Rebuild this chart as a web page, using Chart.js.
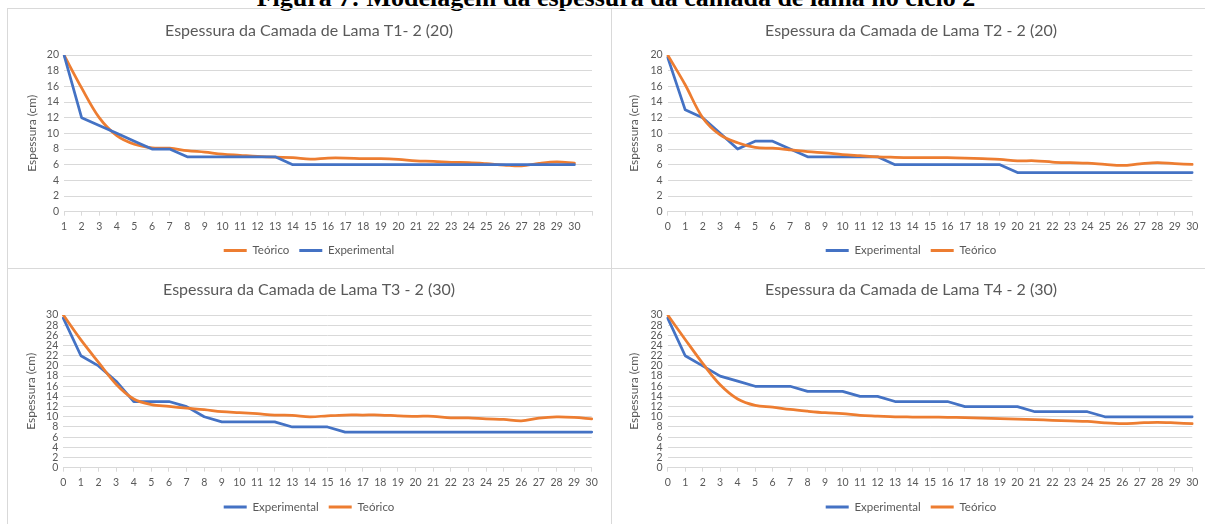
<!DOCTYPE html>
<html><head><meta charset="utf-8">
<script src="https://cdn.jsdelivr.net/npm/chart.js@4.4.1/dist/chart.umd.min.js"></script>
<style>
html,body{margin:0;padding:0;background:#fff;width:1205px;height:524px;overflow:hidden;position:relative}
.panel{position:absolute;box-sizing:border-box;border:1px solid #d9d9d9;}
canvas{position:absolute;}
#cap{position:absolute;left:0;width:1232px;text-align:center;font:bold 26px "Liberation Serif",serif;line-height:26px;top:-15px;color:#000;white-space:nowrap}
</style></head><body>
<div id="cap">Figura 7: Modelagem da espessura da camada de lama no ciclo 2</div>
<div class="panel" style="left:7px;top:8px;width:605px;height:261px"></div>
<div class="panel" style="left:611px;top:8px;width:620px;height:261px"></div>
<div class="panel" style="left:7px;top:268px;width:605px;height:280px"></div>
<div class="panel" style="left:611px;top:268px;width:620px;height:280px"></div>
<canvas id="c1" width="604" height="260" style="left:7px;top:8px"></canvas>
<canvas id="c2" width="600" height="260" style="left:611px;top:8px"></canvas>
<canvas id="c3" width="604" height="262" style="left:7px;top:268px"></canvas>
<canvas id="c4" width="600" height="262" style="left:611px;top:268px"></canvas>
<script>
// ---- Data ----
const t1Labels = ['1','2','3','4','5','6','7','8','9','10','11','12','13','14','15','16','17','18','19','20','21','22','23','24','25','26','27','28','29','30',''];
const t1Teorico = [20, 15.8, 12.0, 9.7, 8.6, 8.15, 8.1, 7.8, 7.6, 7.35, 7.2, 7.05, 6.95, 6.9, 6.72, 6.85, 6.85, 6.78, 6.78, 6.68, 6.5, 6.43, 6.3, 6.26, 6.13, 5.96, 5.85, 6.17, 6.35, 6.2];
const t1Experimental = [20, 12, 11, 10, 9, 8, 8, 7, 7, 7, 7, 7, 7, 6, 6, 6, 6, 6, 6, 6, 6, 6, 6, 6, 6, 6, 6, 6, 6, 6];

const t0to30Labels = ['0','1','2','3','4','5','6','7','8','9','10','11','12','13','14','15','16','17','18','19','20','21','22','23','24','25','26','27','28','29','30'];

const t2Experimental = [19.7, 13, 12, 10, 8, 9, 9, 8, 7, 7, 7, 7, 7, 6, 6, 6, 6, 6, 6, 6, 5, 5, 5, 5, 5, 5, 5, 5, 5, 5, 5];
const t2Teorico = [20, 16.2, 12.0, 9.8, 8.8, 8.2, 8.1, 7.9, 7.66, 7.5, 7.3, 7.15, 7.0, 6.94, 6.9, 6.9, 6.9, 6.85, 6.77, 6.68, 6.5, 6.5, 6.34, 6.26, 6.2, 6.04, 5.9, 6.1, 6.26, 6.13, 6.04];

const t3Experimental = [29.4, 22, 20, 17, 13, 13, 13, 12, 10, 9, 9, 9, 9, 8, 8, 8, 7, 7, 7, 7, 7, 7, 7, 7, 7, 7, 7, 7, 7, 7, 7];
const t3Teorico = [30, 25.1, 20.7, 16.4, 13.5, 12.4, 12.05, 11.7, 11.4, 11.0, 10.8, 10.6, 10.35, 10.3, 10.0, 10.2, 10.35, 10.35, 10.35, 10.2, 10.1, 10.1, 9.8, 9.8, 9.6, 9.5, 9.2, 9.75, 10.0, 9.9, 9.6];

const t4Experimental = [29.4, 22, 20, 18, 17, 16, 16, 16, 15, 15, 15, 14, 14, 13, 13, 13, 13, 12, 12, 12, 12, 11, 11, 11, 11, 10, 10, 10, 10, 10, 10];
const t4Teorico = [30, 25.2, 20.5, 16.3, 13.5, 12.25, 11.9, 11.45, 11.1, 10.8, 10.6, 10.3, 10.15, 10.0, 9.96, 9.93, 9.9, 9.85, 9.75, 9.65, 9.56, 9.45, 9.3, 9.2, 9.1, 8.8, 8.65, 8.8, 8.9, 8.8, 8.65];

const titles = ['Espessura da Camada de Lama T1- 2 (20)','Espessura da Camada de Lama T2 - 2 (20)','Espessura da Camada de Lama T3 - 2 (30)','Espessura da Camada de Lama T4 - 2 (30)'];
const yTitle = 'Espessura (cm)';
const nameExp = 'Experimental', nameTeo = 'Teórico';

// ---- Styling ----
const GRAY = '#595959', GRID = '#d9d9d9', BLUE = '#4472C4', ORANGE = '#ED7D31';
Chart.defaults.font.family = 'Lato';
Chart.defaults.color = GRAY;

const TITLE_FS = 16, LEG_FS = 11.5, LEG_PAD = 10, TICK_FS = 10.5, YT_FS = 12;

function ds(label, data, color, smooth) {
  return { label, data, borderColor: color, backgroundColor: color, borderWidth: 2.75,
    pointRadius: 0, pointHoverRadius: 0, tension: smooth ? 0.35 : 0, borderJoinStyle: 'round', borderCapStyle: 'round', fill: false };
}

function build(id, g, labels, datasets, yMax, title) {
  const legTop = g.yL - LEG_PAD - LEG_FS / 2;
  const legBottom = g.yL + LEG_FS / 2 + 10;
  // second dataset drawn on top
  datasets[0].order = 1; datasets[1].order = 0;
  new Chart(document.getElementById(id), {
    type: 'line',
    data: { labels, datasets },
    options: {
      responsive: false, animation: false, events: [],
      layout: { padding: { left: 0, right: 0, top: 0, bottom: g.Hc - legBottom } },
      plugins: {
        tooltip: { enabled: false },
        title: { display: true, text: title, color: GRAY,
          font: { size: TITLE_FS, weight: 'normal', lineHeight: 1.2 },
          padding: { top: g.yT - 0.6 * TITLE_FS, bottom: g.T - g.yT - 0.6 * TITLE_FS } },
        legend: { position: 'bottom',
          labels: { color: GRAY, font: { size: LEG_FS }, boxWidth: 23, boxHeight: 3, padding: LEG_PAD,
            sort: (a, b) => a.datasetIndex - b.datasetIndex,
            generateLabels: (chart) => Chart.defaults.plugins.legend.labels.generateLabels(chart)
              .map(l => Object.assign(l, { lineWidth: 0, fillStyle: l.strokeStyle })) } }
      },
      scales: {
        x: { type: 'category', offset: false,
          grid: { display: true, drawOnChartArea: false, drawTicks: true, tickLength: 4, color: GRID, tickColor: GRID },
          border: { display: true, color: GRID, width: 1 },
          ticks: { autoSkip: false, maxRotation: 0, minRotation: 0, padding: 5, color: GRAY, font: { size: TICK_FS } },
          afterFit: s => { s.height = legTop - g.B; } },
        y: { type: 'linear', position: 'left', min: 0, max: yMax,
          grid: { color: GRID, lineWidth: 1, drawTicks: false },
          border: { display: false },
          ticks: { stepSize: 2, autoSkip: false, padding: 5, color: GRAY, font: { size: TICK_FS } },
          title: { display: true, text: yTitle, color: GRAY, font: { size: YT_FS, lineHeight: 1.2 },
            padding: { top: g.yTx - 0.6 * YT_FS, bottom: 0 } },
          afterFit: s => { s.width = g.L; } },
        y2: { type: 'linear', position: 'right', display: true,
          grid: { display: false }, border: { display: false }, ticks: { display: false },
          afterFit: s => { s.width = g.Wc - g.R; } }
      }
    }
  });
}

build('c1', { Wc: 604, Hc: 260, L: 57, R: 585, T: 47, B: 203.7, yT: 22.7, yL: 242.5, yTx: 25.3 },
  t1Labels, [ds(nameTeo, t1Teorico, ORANGE, true), ds(nameExp, t1Experimental, BLUE, false)], 20, titles[0]);
build('c2', { Wc: 600, Hc: 260, L: 56.7, R: 581.3, T: 47, B: 203.7, yT: 22.7, yL: 242.5, yTx: 23.3 },
  t0to30Labels, [ds(nameExp, t2Experimental, BLUE, false), ds(nameTeo, t2Teorico, ORANGE, true)], 20, titles[1]);
build('c3', { Wc: 604, Hc: 262, L: 56.3, R: 584.7, T: 47, B: 199.7, yT: 22, yL: 239, yTx: 24 },
  t0to30Labels, [ds(nameExp, t3Experimental, BLUE, false), ds(nameTeo, t3Teorico, ORANGE, true)], 30, titles[2]);
build('c4', { Wc: 600, Hc: 262, L: 56.7, R: 581.3, T: 47, B: 199.7, yT: 22, yL: 239, yTx: 23.3 },
  t0to30Labels, [ds(nameExp, t4Experimental, BLUE, false), ds(nameTeo, t4Teorico, ORANGE, true)], 30, titles[3]);
</script>
</body></html>
